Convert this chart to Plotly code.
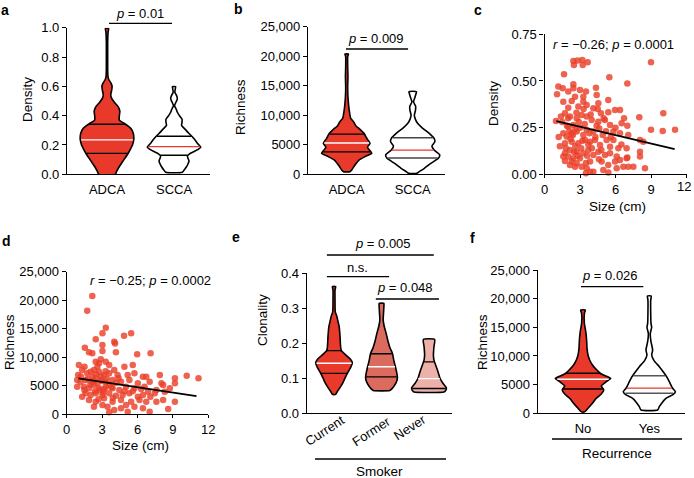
import numpy as np
import plotly.graph_objects as go

W, H = 694, 478
FONT = "Liberation Sans, Arial, Helvetica, sans-serif"

# ---------------- data ----------------
# (a) Density by histology (violin outline: value levels + relative density), quartiles [Q1, median, Q3]
a_categories = ["ADCA", "SCCA"]
a_adca_vals = [0.0, 0.02, 0.05, 0.08, 0.11, 0.14, 0.17, 0.20, 0.24, 0.28, 0.31, 0.33, 0.35, 0.37, 0.40,
               0.43, 0.46, 0.49, 0.52, 0.545, 0.57, 0.60, 0.625, 0.645, 0.67, 0.72, 0.80, 0.90, 0.97, 0.995]
a_adca_dens = [0.31, 0.36, 0.45, 0.56, 0.67, 0.78, 0.87, 0.95, 1.0, 0.98, 0.90, 0.78, 0.62, 0.46, 0.46,
               0.48, 0.42, 0.28, 0.17, 0.14, 0.17, 0.19, 0.14, 0.07, 0.035, 0.025, 0.025, 0.025, 0.04, 0.06]
a_adca_quart = [0.143, 0.235, 0.341]
a_scca_vals = [0.014, 0.03, 0.05, 0.07, 0.09, 0.11, 0.125, 0.14, 0.155, 0.17, 0.185, 0.21, 0.23, 0.255, 0.28,
               0.31, 0.335, 0.355, 0.375, 0.40, 0.425, 0.445, 0.468, 0.495, 0.515, 0.535, 0.56, 0.585, 0.598]
a_scca_dens = [0.31, 0.38, 0.46, 0.52, 0.56, 0.52, 0.50, 0.58, 0.75, 0.90, 1.0, 0.88, 0.80, 0.69, 0.55,
               0.40, 0.28, 0.30, 0.30, 0.20, 0.12, 0.08, 0.02, 0.08, 0.125, 0.10, 0.03, 0.05, 0.06]
a_scca_quart = [0.13, 0.189, 0.26]

# (b) Richness by histology
b_categories = ["ADCA", "SCCA"]
b_adca_vals = [450, 730, 1580, 2430, 2990, 3560, 4570, 5250, 6100, 6940, 7620, 8180, 8920, 9480, 10040,
               10600, 11170, 12020, 13150, 14840, 16540, 18230, 19920, 20370]
b_adca_dens = [0.13, 0.2, 0.33, 0.5, 0.73, 1.0, 0.83, 0.93, 0.8, 0.69, 0.53, 0.37, 0.27, 0.16, 0.13,
               0.11, 0.09, 0.07, 0.05, 0.04, 0.05, 0.04, 0.04, 0.07]
b_adca_quart = [3800, 5300, 6800]
b_scca_vals = [170, 450, 1020, 1860, 2710, 3270, 4120, 4800, 5530, 6100, 6940, 7790, 8630, 9300, 10000,
               10800, 11500, 12300, 13000, 13600, 14000]
b_scca_dens = [0.15, 0.24, 0.43, 0.67, 0.95, 1.0, 0.79, 0.71, 0.82, 0.79, 0.61, 0.37, 0.18, 0.1, 0.06,
               0.1, 0.11, 0.03, 0.08, 0.12, 0.14]
b_scca_quart = [2750, 4100, 6200]

# (c) Density vs tumour size
c_size = [2.44, 2.80, 3.20, 3.65, 3.23, 2.49, 1.65, 5.48, 9.00, 7.00, 1.17, 1.54, 1.06, 2.01, 2.44, 2.44,
          3.00, 3.51, 4.35, 3.28, 2.58, 2.30, 1.59, 3.28, 3.56, 2.86, 2.01, 4.41, 4.55, 4.13, 5.39, 5.96,
          4.77, 5.39, 6.38, 6.72, 8.01, 10.04, 0.97, 1.39, 1.73, 2.15, 2.72, 3.14, 3.56, 3.99, 4.55, 5.11,
          5.54, 6.52, 5.82, 6.38, 7.08, 8.07, 9.00, 9.99, 11.03, 2.01, 2.44, 1.59, 1.87, 2.30, 2.72, 3.28,
          3.56, 4.13, 4.63, 4.92, 5.25, 5.82, 1.73, 2.30, 2.86, 3.42, 3.85, 4.27, 4.69, 5.54, 6.24, 6.94,
          8.07, 8.35, 1.73, 2.15, 2.72, 3.28, 3.70, 4.13, 4.55, 5.11, 5.54, 6.10, 6.94, 3.00, 2.44, 1.73,
          2.72, 3.14, 3.85, 4.83, 5.39, 5.96, 6.38, 6.66, 7.08, 7.51, 8.07, 8.49, 3.56, 3.85, 4.13, 4.97,
          6.10, 2.58, 2.15, 2.01, 1.59, 2.2, 2.6, 3.0, 3.4, 2.9, 3.7, 2.4, 3.1, 2.8, 3.6, 4.0, 4.3, 1.9,
          2.1, 2.7, 3.3, 3.9, 4.5, 1.8, 2.5, 3.5, 4.6, 5.0, 5.6, 6.0, 1.5, 2.0, 3.8, 4.8, 2.3, 1.2, 1.3,
          4.4, 3.2, 2.6, 5.2, 6.5, 7.0, 7.0, 3.5, 5.4]
c_density = [0.607, 0.609, 0.612, 0.600, 0.586, 0.586, 0.536, 0.520, 0.600, 0.486, 0.470, 0.461, 0.429,
             0.443, 0.482, 0.461, 0.452, 0.443, 0.464, 0.416, 0.416, 0.393, 0.389, 0.389, 0.371, 0.363,
             0.357, 0.425, 0.380, 0.354, 0.398, 0.345, 0.327, 0.332, 0.345, 0.300, 0.305, 0.327, 0.286,
             0.309, 0.327, 0.309, 0.300, 0.318, 0.309, 0.291, 0.282, 0.291, 0.264, 0.273, 0.229, 0.220,
             0.211, 0.184, 0.238, 0.232, 0.238, 0.255, 0.264, 0.220, 0.202, 0.220, 0.229, 0.211, 0.238,
             0.229, 0.246, 0.211, 0.184, 0.184, 0.166, 0.175, 0.166, 0.184, 0.175, 0.184, 0.157, 0.148,
             0.139, 0.139, 0.121, 0.175, 0.113, 0.130, 0.121, 0.113, 0.130, 0.104, 0.121, 0.104, 0.113,
             0.095, 0.086, 0.086, 0.086, 0.071, 0.059, 0.041, 0.068, 0.068, 0.050, 0.068, 0.077, 0.041,
             0.041, 0.041, 0.095, 0.032, 0.032, 0.014, 0.014, 0.023, 0.032, 0.041, 0.050, 0.095, 0.095,
             0.19, 0.15, 0.25, 0.27, 0.28, 0.16, 0.21, 0.14, 0.10, 0.10, 0.14, 0.20, 0.26, 0.23, 0.33,
             0.35, 0.32, 0.35, 0.14, 0.12, 0.06, 0.08, 0.30, 0.20, 0.25, 0.28, 0.30, 0.22, 0.13, 0.07,
             0.20, 0.15, 0.26, 0.18, 0.24, 0.23, 0.16, 0.26, 0.09, 0.005, 0.01]
c_fit_x = [1, 11]
c_fit_y = [0.285, 0.135]

# (d) Richness vs tumour size
d_size = [2.17, 1.74, 3.31, 3.03, 2.46, 4.86, 5.46, 4.03, 4.10, 1.54, 1.89, 2.17, 3.03, 3.03, 4.17, 5.97,
          7.11, 1.03, 1.51, 2.46, 2.74, 2.89, 2.60, 3.31, 3.60, 4.03, 4.89, 5.60, 0.97, 1.31, 1.74, 2.03,
          2.31, 2.74, 3.17, 3.60, 4.31, 5.17, 5.74, 6.46, 6.74, 7.89, 9.17, 10.17, 11.17, 1.17, 1.60, 2.11,
          2.46, 2.89, 3.31, 3.89, 4.60, 5.31, 6.03, 7.03, 8.03, 8.17, 8.74, 9.17, 1.46, 1.89, 2.31, 2.74,
          3.31, 3.89, 4.46, 5.03, 5.74, 6.31, 6.89, 7.60, 8.31, 1.60, 2.03, 2.46, 3.03, 3.60, 4.17, 4.74,
          5.31, 6.03, 6.46, 7.09, 7.46, 1.89, 2.46, 3.17, 3.89, 4.60, 5.46, 6.17, 6.74, 7.60, 8.17, 9.17,
          8.60, 7.03, 5.17, 3.60, 4.03, 3.46, 4.60, 5.74, 1.31, 0.89, 0.89, 2.31, 3.03, 6.46, 5.03, 2.2,
          2.6, 3.0, 3.4, 2.8, 3.6, 2.4, 3.1, 2.9, 3.8, 4.2, 2.0, 1.8, 2.5, 3.3, 4.4, 3.9, 2.7, 1.5, 4.9,
          3.2, 2.3, 5.6, 6.6, 1.2]
d_richness = [20727, 18150, 15165, 14170, 13115, 13760, 14170, 12705, 12400, 11650, 10832, 10656, 12120,
              11066, 10832, 10480, 10656, 8607, 8314, 9192, 8900, 9602, 8314, 9192, 8607, 7729, 8314, 8607,
              6850, 7729, 7143, 7436, 7729, 7436, 6850, 7143, 6850, 6850, 7143, 6558, 6558, 6850, 6265,
              6733, 6265, 5679, 5972, 5679, 6265, 5972, 5679, 5972, 5679, 5972, 5387, 5679, 5387, 5094,
              4508, 5387, 4801, 4508, 5094, 4508, 4801, 4508, 4216, 4801, 4508, 4391, 3923, 4216, 3923,
              3630, 3337, 3630, 3337, 3630, 3220, 3337, 3630, 3045, 3337, 3045, 3630, 2459, 2166, 2752,
              2166, 2459, 2166, 2459, 2166, 2166, 2459, 2166, 878, 410, 410, 293, 703, 1288, 995, 1288,
              3045, 4801, 5972, 1288, 1581, 995, 1581, 6500, 5400, 5800, 6200, 4200, 5200, 4000, 3800,
              6600, 4700, 5500, 5200, 6200, 7000, 7500, 6300, 2800, 2600, 4200, 4000, 4400, 5800, 4000,
              4800, 6600]
d_fit_x = [1, 11]
d_fit_y = [6250, 3150]

# (e) Clonality by smoking status
e_categories = ["Current", "Former", "Never"]
e_cur_vals = [0.054, 0.062, 0.076, 0.09, 0.105, 0.119, 0.133, 0.145, 0.154, 0.167, 0.179, 0.19, 0.219,
              0.248, 0.262, 0.276, 0.29, 0.324, 0.352, 0.362]
e_cur_dens = [0.09, 0.18, 0.36, 0.51, 0.64, 0.78, 0.93, 1.0, 0.91, 0.64, 0.4, 0.36, 0.33, 0.28, 0.22,
              0.16, 0.07, 0.055, 0.055, 0.09]
e_cur_quart = [0.114, 0.143, 0.179]
e_for_vals = [0.065, 0.069, 0.078, 0.09, 0.102, 0.114, 0.133, 0.152, 0.171, 0.189, 0.205, 0.229, 0.248,
              0.267, 0.286, 0.305, 0.314]
e_for_dens = [0.45, 0.55, 0.69, 0.82, 0.87, 0.84, 0.76, 0.67, 0.6, 0.45, 0.36, 0.25, 0.15, 0.09, 0.11,
              0.13, 0.13]
e_for_quart = [0.104, 0.133, 0.170]
e_nev_vals = [0.061, 0.065, 0.073, 0.086, 0.10, 0.119, 0.138, 0.152, 0.167, 0.19, 0.211]
e_nev_dens = [0.82, 0.91, 0.95, 0.76, 0.6, 0.49, 0.36, 0.27, 0.24, 0.27, 0.31]
e_nev_quart = [0.071, 0.099, 0.147]

# (f) Richness by recurrence
f_categories = ["No", "Yes"]
f_no_vals = [290, 870, 1740, 2620, 3370, 4070, 4770, 5520, 6100, 6860, 7560, 8430, 9300, 10170, 11340,
             12790, 14240, 15700, 17440, 18020]
f_no_dens = [0.07, 0.18, 0.34, 0.48, 0.66, 0.75, 0.66, 0.84, 1.0, 0.66, 0.5, 0.34, 0.24, 0.18, 0.145,
             0.13, 0.1, 0.05, 0.05, 0.085]
f_no_quart = [4240, 5930, 6980]
f_yes_vals = [580, 1160, 1860, 2620, 3200, 3780, 4360, 5230, 6100, 6980, 8140, 9190, 10170, 11050, 12500,
              13950, 15000, 15700, 17440, 19770, 20470]
f_yes_dens = [0.3, 0.36, 0.46, 0.6, 0.84, 0.94, 0.84, 0.75, 0.66, 0.54, 0.36, 0.17, 0.085, 0.12, 0.06,
              0.035, 0.085, 0.06, 0.05, 0.05, 0.07]
f_yes_quart = [3490, 4400, 6560]

size_ticks = [0, 3, 6, 9, 12]
richness_ticks = [0, 5000, 10000, 15000, 20000, 25000]
richness_ticktext = ["0", "5000", "10,000", "15,000", "20,000", "25,000"]

# ---------------- styles ----------------
RED = "#E8392A"
FORMER = "#DB6A5F"
NEVER = "#EDB1AA"
DOT = "rgba(234,64,42,0.82)"

fig = go.Figure()


def px2x(px):
    return px / W


def px2y(py):
    return 1 - py / H


def violin(center, vals, dens, hw, fill, quart, med_color, q_color, ax):
    v = np.asarray(vals, float)
    d = np.asarray(dens, float) * hw
    xs = np.concatenate([center + d, (center - d)[::-1], [center + d[0]]])
    ys = np.concatenate([v, v[::-1], [v[0]]])
    fig.add_trace(go.Scatter(x=xs, y=ys, mode="lines", fill="toself", fillcolor=fill,
                             line=dict(color="black", width=1.6, shape="spline", smoothing=0.5),
                             xaxis="x" + ax, yaxis="y" + ax, hoverinfo="skip", showlegend=False))
    for i, q in enumerate(quart):
        half = np.interp(q, v, d) * 0.97
        col = med_color if i == 1 else q_color
        fig.add_trace(go.Scatter(x=[center - half, center + half], y=[q, q], mode="lines",
                                 line=dict(color=col, width=1.4),
                                 xaxis="x" + ax, yaxis="y" + ax, hoverinfo="skip", showlegend=False))


# panel a
violin(0, a_adca_vals, a_adca_dens, 0.40, RED, a_adca_quart, "white", "black", "")
violin(1, a_scca_vals, a_scca_dens, 0.40, "white", a_scca_quart, RED, "black", "")
# panel b
violin(0, b_adca_vals, b_adca_dens, 0.38, RED, b_adca_quart, "white", "black", "2")
violin(1, b_scca_vals, b_scca_dens, 0.41, "white", b_scca_quart, RED, "#444444", "2")
# panel c
fig.add_trace(go.Scatter(x=c_size, y=c_density, mode="markers", cliponaxis=False,
                         marker=dict(size=6.5, color=DOT, line=dict(width=0)),
                         xaxis="x3", yaxis="y3", showlegend=False))
fig.add_trace(go.Scatter(x=c_fit_x, y=c_fit_y, mode="lines", line=dict(color="black", width=1.8),
                         xaxis="x3", yaxis="y3", showlegend=False))
# panel d
fig.add_trace(go.Scatter(x=d_size, y=d_richness, mode="markers", cliponaxis=False,
                         marker=dict(size=6.5, color=DOT, line=dict(width=0)),
                         xaxis="x4", yaxis="y4", showlegend=False))
fig.add_trace(go.Scatter(x=d_fit_x, y=d_fit_y, mode="lines", line=dict(color="black", width=1.8),
                         xaxis="x4", yaxis="y4", showlegend=False))
# panel e
violin(0, e_cur_vals, e_cur_dens, 0.385, RED, e_cur_quart, "white", "black", "5")
violin(1, e_for_vals, e_for_dens, 0.385, FORMER, e_for_quart, "white", "black", "5")
violin(2, e_nev_vals, e_nev_dens, 0.385, NEVER, e_nev_quart, "white", "black", "5")
# panel f
violin(0, f_no_vals, f_no_dens, 0.418, RED, f_no_quart, "white", "black", "6")
violin(1, f_yes_vals, f_yes_dens, 0.418, "white", f_yes_quart, RED, "#555555", "6")

# ---------------- axes ----------------
TICKFONT = dict(family=FONT, size=13, color="black")


def yax(top, bot, rng, tv, tt, anchor):
    return dict(domain=[px2y(bot), px2y(top)], range=rng, tickvals=tv, ticktext=tt, anchor=anchor,
                showline=True, linecolor="black", linewidth=1.2, ticks="outside", ticklen=4,
                tickwidth=1.2, tickcolor="black", showgrid=False, zeroline=False, tickfont=TICKFONT,
                automargin=False)


def xax(left, right, rng, tv, tt, anchor, tickcolor="rgba(0,0,0,0)", ticklen=3, show=True):
    return dict(domain=[px2x(left), px2x(right)], range=rng, tickvals=tv, ticktext=tt, anchor=anchor,
                showline=True, linecolor="black", linewidth=1.2, ticks="outside", ticklen=ticklen,
                tickwidth=1.2, tickcolor=tickcolor, showgrid=False, zeroline=False, tickfont=TICKFONT,
                automargin=False, showticklabels=show, ticklabeloverflow="allow")


# panel c: last tick label (at the figure edge) is drawn as an annotation below
c_ticktext = [str(t) for t in size_ticks[:-1]] + [""]

fig.update_layout(
    xaxis=xax(67, 210, [-0.597, 1.537], [0, 1], a_categories, "y"),
    yaxis=yax(27.7, 174.3, [0, 1], [0, 0.2, 0.4, 0.6, 0.8, 1.0], ["0.0", "0.2", "0.4", "0.6", "0.8", "1.0"], "x"),
    xaxis2=xax(308, 445, [-0.586, 1.489], [0, 1], b_categories, "y2"),
    yaxis2=yax(26.7, 174.3, [0, 25000], richness_ticks, richness_ticktext, "x2"),
    xaxis3=xax(544.5, 686.5, [0, 12], size_ticks, c_ticktext, "y3", tickcolor="black"),
    yaxis3=yax(34.3, 174.3, [0, 0.75], [0, 0.25, 0.5, 0.75], ["0.00", "0.25", "0.50", "0.75"], "x3"),
    xaxis4=xax(66.7, 208.3, [0, 12], size_ticks, [str(t) for t in size_ticks], "y4", tickcolor="black"),
    yaxis4=yax(271.7, 414, [0, 25000], richness_ticks, richness_ticktext, "x4"),
    xaxis5=xax(306.7, 452, [-0.575, 2.484], [0, 1, 2], e_categories, "y5", show=False),
    yaxis5=yax(273.3, 413.3, [0, 0.4], [0, 0.1, 0.2, 0.3, 0.4], ["0.0", "0.1", "0.2", "0.3", "0.4"], "x5"),
    xaxis6=xax(537.7, 685, [-0.683, 1.538], [0, 1], f_categories, "y6"),
    yaxis6=yax(270, 413.3, [0, 25000], richness_ticks, richness_ticktext, "x6"),
)


# ---------------- annotations ----------------
def ann(text, xpx, ypx, size=13.5, angle=0, xanchor="center"):
    fig.add_annotation(x=px2x(xpx), y=px2y(ypx), xref="paper", yref="paper", text=text, showarrow=False,
                       font=dict(family=FONT, size=size, color="black"), textangle=angle,
                       xanchor=xanchor, yanchor="middle")


# edge tick label "12" of panel c
ann(str(size_ticks[-1]), 693, 186, size=13, xanchor="right")

# panel letters
for letter, xp, yp in [("a", 5, 10), ("b", 238, 9), ("c", 478, 10), ("d", 6, 241), ("e", 236, 237), ("f", 472, 238)]:
    ann("<b>%s</b>" % letter, xp, yp, size=14)

# y-axis titles
ann("Density", 27, 100, angle=-90)
ann("Richness", 240, 107, angle=-90)
ann("Density", 493, 104, angle=-90)
ann("Richness", 9, 342, angle=-90)
ann("Clonality", 262, 320, angle=-90)
ann("Richness", 482, 342, angle=-90)

# rotated category labels of panel e
for label, xp, yp in zip(e_categories, [325, 371, 409.5], [430.5, 431, 427]):
    ann(label, xp, yp, size=13, angle=-33)

# x titles
ann("Size (cm)", 617, 206)
ann("Size (cm)", 140, 445)
ann("Smoker", 380, 471)
ann("Recurrence", 617, 453)

# statistics text
ann("<i>p</i> = 0.01", 140, 13, size=13)
ann("<i>p</i> = 0.009", 376, 38, size=13)
ann("<i>r</i> = \u22120.26; <i>p</i> = 0.0001", 613, 44, size=13)
ann("<i>r</i> = \u22120.25; <i>p</i> = 0.0002", 150, 280, size=13)
ann("<i>p</i> = 0.005", 383, 243, size=13)
ann("n.s.", 358, 267, size=13)
ann("<i>p</i> = 0.048", 405, 287, size=13)
ann("<i>p</i> = 0.026", 610, 275, size=13)


def bar(xref, x0, x1, ypx):
    fig.add_shape(type="line", xref=xref, yref="paper", x0=x0, x1=x1, y0=px2y(ypx), y1=px2y(ypx),
                  line=dict(color="black", width=1.3))


bar("x", 0.03, 0.97, 23.3)
bar("x2", -0.01, 0.93, 49)
bar("x5", -0.15, 2.1, 255)
bar("x5", -0.15, 1.16, 276.7)
bar("x5", 0.88, 2.21, 299)
bar("x6", -0.03, 0.91, 286.7)

# group underlines
for x0, x1, yp in [(315, 446, 459), (552, 682, 439)]:
    fig.add_shape(type="line", xref="paper", yref="paper", x0=px2x(x0), x1=px2x(x1), y0=px2y(yp), y1=px2y(yp),
                  line=dict(color="black", width=1.3))

fig.update_layout(width=W, height=H, margin=dict(l=0, r=0, t=0, b=0, pad=0, autoexpand=False),
                  plot_bgcolor="white", paper_bgcolor="white", showlegend=False,
                  font=dict(family=FONT, color="black"))

fig.write_html("out.html", config={"displayModeBar": False},
               post_script="document.body.style.margin='0';document.body.style.overflow='hidden';")
